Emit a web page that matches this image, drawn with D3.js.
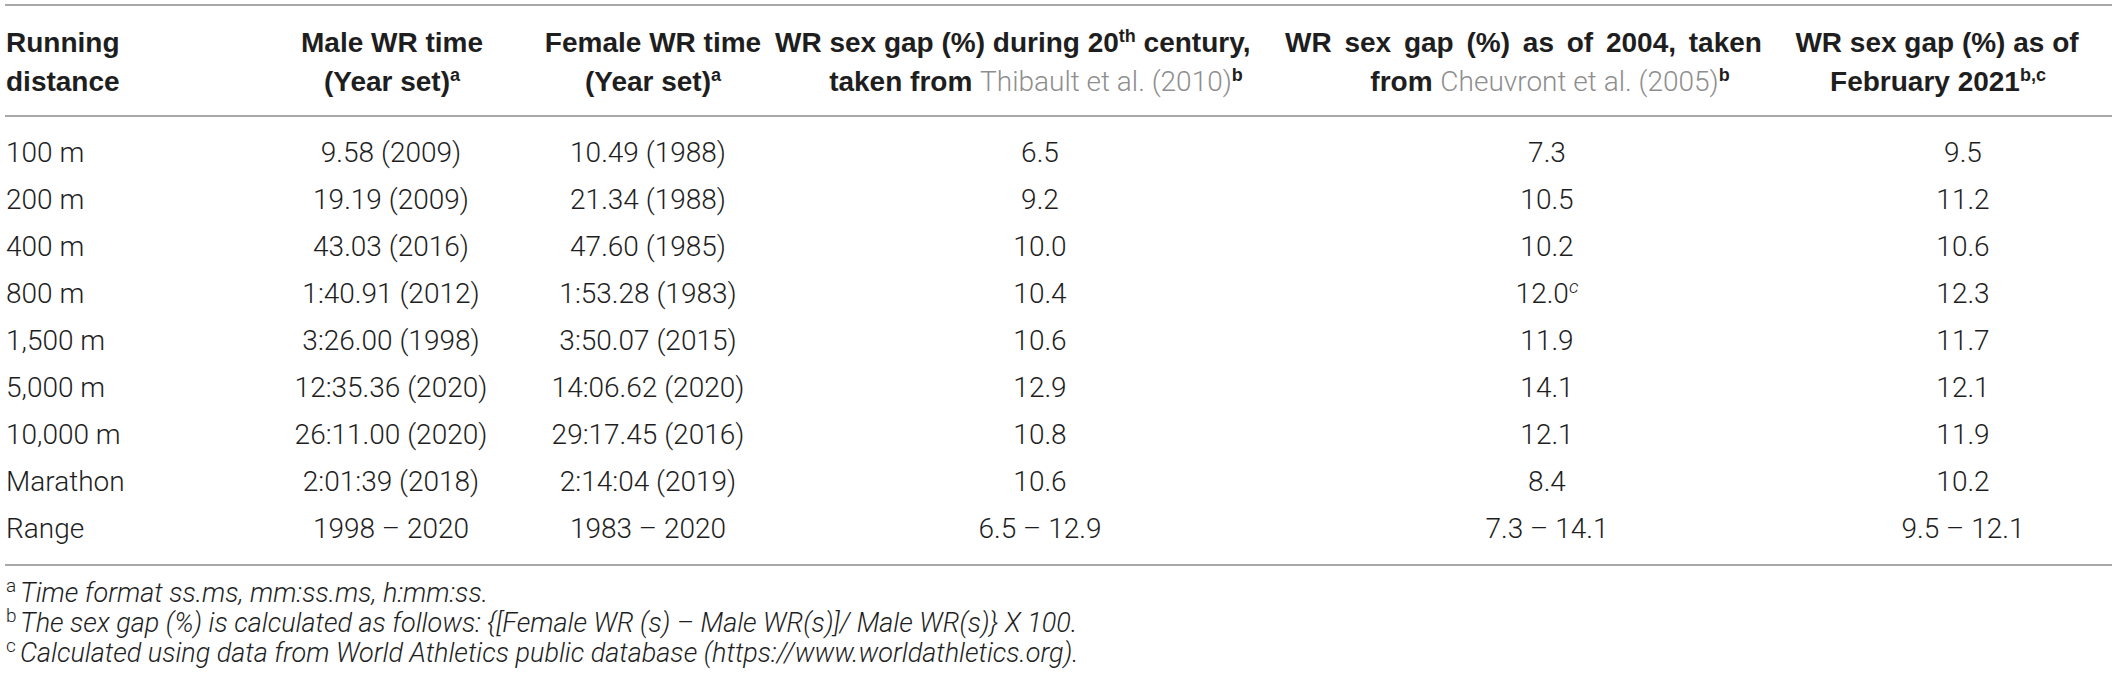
<!DOCTYPE html>
<html lang="en">
<head>
    <meta charset="UTF-8">
    <title>World record sex gap</title>
    <script src="https://cdn.jsdelivr.net/npm/d3@7"></script>
    <style>
        body {
            margin: 0;
            background: #fff;
        }

        #table svg {
            display: block;
        }
    </style>
</head>
<body>
<div id="table"></div>

<script>
    const width = 2117
    const height = 690

    // table content
    const distances = ["100 m", "200 m", "400 m", "800 m", "1,500 m", "5,000 m", "10,000 m", "Marathon", "Range"]
    const maleWR = ["9.58 (2009)", "19.19 (2009)", "43.03 (2016)", "1:40.91 (2012)", "3:26.00 (1998)",
        "12:35.36 (2020)", "26:11.00 (2020)", "2:01:39 (2018)", "1998 \u2013 2020"]
    const femaleWR = ["10.49 (1988)", "21.34 (1988)", "47.60 (1985)", "1:53.28 (1983)", "3:50.07 (2015)",
        "14:06.62 (2020)", "29:17.45 (2016)", "2:14:04 (2019)", "1983 \u2013 2020"]
    const gap20th = ["6.5", "9.2", "10.0", "10.4", "10.6", "12.9", "10.8", "10.6", "6.5 \u2013 12.9"]
    const gap2004 = ["7.3", "10.5", "10.2", "12.0", "11.9", "14.1", "12.1", "8.4", "7.3 \u2013 14.1"]
    const gap2004Notes = ["", "", "", "c", "", "", "", "", ""]
    const gap2021 = ["9.5", "11.2", "10.6", "12.3", "11.7", "12.1", "11.9", "10.2", "9.5 \u2013 12.1"]

    const headerTop = [
        [{t: "Running"}],
        [{t: "Male WR time"}],
        [{t: "Female WR time"}],
        [{t: "WR sex gap (%) during 20"}, {t: "th", sup: true}, {t: " century,"}],
        [{t: "WR sex gap (%) as of 2004, taken"}],
        [{t: "WR sex gap (%) as of"}]
    ]
    const headerBottom = [
        [{t: "distance"}],
        [{t: "(Year set)"}, {t: "a", sup: true}],
        [{t: "(Year set)"}, {t: "a", sup: true}],
        [{t: "taken from "}, {t: "Thibault et al. (2010)", cite: true}, {t: "b", sup: true}],
        [{t: "from "}, {t: "Cheuvront et al. (2005)", cite: true}, {t: "b", sup: true}],
        [{t: "February 2021"}, {t: "b,c", sup: true}]
    ]

    const footMarks = ["a", "b", "c"]
    const footTexts = [
        "Time format ss.ms, mm:ss.ms, h:mm:ss.",
        "The sex gap (%) is calculated as follows: {[Female WR (s) \u2013 Male WR(s)]/ Male WR(s)} X 100.",
        "Calculated using data from World Athletics public database (https://www.worldathletics.org)."
    ]

    // layout
    const headFont = "'Liberation Sans', Arial, sans-serif"
    const bodyFont = "Roboto, 'Liberation Sans', Arial, sans-serif"
    const textColor = "#1e1e1e"
    const citeColor = "#8e8e8e"
    const ruleColor = "#a8a8a8"

    const headTopPos = [
        {x: 6, anchor: "start"}, {x: 392}, {x: 653},
        {x: 775, anchor: "start"}, {x: 1285, anchor: "start", wordGap: 5}, {x: 1937}
    ]
    const headBottomPos = [
        {x: 6, anchor: "start"}, {x: 392}, {x: 653}, {x: 1036}, {x: 1550}, {x: 1938}
    ]
    const colX = [6, 391, 648, 1040, 1547, 1963]

    const y = d3.scalePoint()
        .domain(distances)
        .range([162, 538])

    const footY = d3.scalePoint()
        .domain(footMarks)
        .range([602, 662])

    const svg = d3.select("#table").append("svg")
        .attr("width", width)
        .attr("height", height)

    // rules
    svg.selectAll(".rule")
        .data([5, 116, 565])
        .enter().append("line")
        .attr("class", "rule")
        .attr("x1", 5)
        .attr("x2", width - 5)
        .attr("y1", (d) => d)
        .attr("y2", (d) => d)
        .attr("stroke", ruleColor)
        .attr("stroke-width", 2)

    function addSegments(text, segs) {
        let raised = false
        segs.forEach((s) => {
            const span = text.append("tspan").text(s.t)
            if (s.sup) {
                span.attr("font-size", 18).attr("dy", raised ? 0 : -10)
                raised = true
            } else {
                if (raised) span.attr("dy", 10)
                raised = false
            }
            if (s.cite) {
                span.attr("fill", citeColor)
                    .attr("font-family", bodyFont)
                    .attr("font-weight", 300)
            }
        })
    }

    function drawHeaderLine(lines, pos, baseline) {
        lines.forEach((segs, i) => {
            const p = pos[i]
            const text = svg.append("text")
                .attr("x", p.x)
                .attr("y", baseline)
                .attr("text-anchor", p.anchor || "middle")
                .attr("font-family", headFont)
                .attr("font-weight", "bold")
                .attr("font-size", 28)
                .attr("fill", textColor)
            if (p.wordGap) {
                text.style("word-spacing", `${p.wordGap}px`)
            }
            addSegments(text, segs)
        })
    }

    drawHeaderLine(headerTop, headTopPos, 52)
    drawHeaderLine(headerBottom, headBottomPos, 91)

    // body cells
    const columns = [distances, maleWR, femaleWR, gap20th, gap2004, gap2021]

    columns.forEach((col, c) => {
        const cells = svg.selectAll(".col" + c)
            .data(col)
            .enter().append("text")
            .attr("class", "col" + c)
            .attr("x", colX[c])
            .attr("y", (d, i) => y(distances[i]))
            .attr("text-anchor", c === 0 ? "start" : "middle")
            .attr("font-family", bodyFont)
            .attr("font-weight", 300)
            .attr("font-size", 28)
            .attr("fill", textColor)

        cells.append("tspan").text((d) => d)

        if (col === gap2004) {
            cells.each(function (d, i) {
                if (gap2004Notes[i] === "") return
                d3.select(this).append("tspan")
                    .attr("font-size", 19)
                    .attr("font-style", "italic")
                    .attr("dy", -10)
                    .text(gap2004Notes[i])
            })
        }
    })

    // footnotes
    const notes = svg.selectAll(".note")
        .data(footMarks)
        .enter().append("g")
        .attr("class", "note")

    notes.append("text")
        .attr("x", 6)
        .attr("y", (d) => footY(d) - 10)
        .attr("font-family", bodyFont)
        .attr("font-weight", 300)
        .attr("font-size", 19)
        .attr("fill", textColor)
        .text((d) => d)

    notes.append("text")
        .attr("x", 20)
        .attr("y", (d) => footY(d))
        .attr("font-family", bodyFont)
        .attr("font-weight", 300)
        .attr("font-style", "italic")
        .attr("font-size", 27)
        .attr("fill", textColor)
        .text((d, i) => footTexts[i])
</script>
</body>
</html>
